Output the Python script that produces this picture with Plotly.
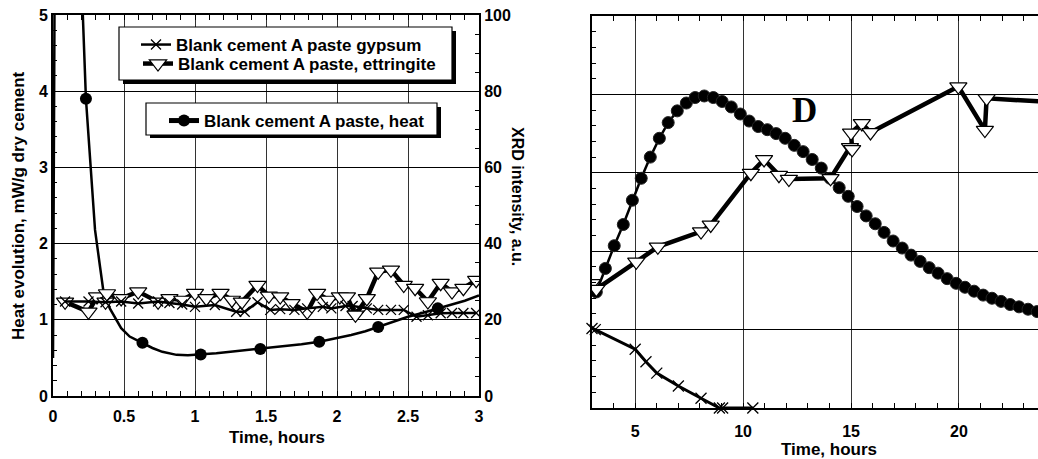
import plotly.graph_objects as go

# ---------------- data ----------------
heat_left_t = [0.0, 0.015, 0.12, 0.21, 0.232, 0.296, 0.331, 0.354, 0.40, 0.449, 0.48, 0.54, 0.63, 0.70, 0.77,
               0.87, 0.95, 1.04, 1.15, 1.25, 1.35, 1.46, 1.60, 1.75, 1.875, 2.0, 2.10, 2.20, 2.29, 2.40,
               2.50, 2.60, 2.71, 2.80, 2.90, 3.0]
heat_left_v = [0.5, 7.0, 8.0, 5.0, 3.9, 2.18, 1.70, 1.39, 1.15, 1.0, 0.89, 0.78, 0.70, 0.63, 0.58,
               0.54, 0.535, 0.545, 0.56, 0.58, 0.60, 0.617, 0.645, 0.68, 0.713, 0.76, 0.80, 0.85, 0.905, 0.98,
               1.04, 1.09, 1.15, 1.20, 1.25, 1.32]
heat_left_marker_t = [0.232, 0.63, 1.04, 1.46, 1.875, 2.29, 2.71]

ett_left_t = [0.085, 0.25, 0.31, 0.37, 0.38, 0.48, 0.60, 0.74, 0.82, 0.91, 1.00, 1.08, 1.18, 1.26, 1.33,
              1.44, 1.52, 1.60, 1.68, 1.79, 1.86, 1.94, 2.02, 2.07, 2.13, 2.21, 2.29, 2.38, 2.47, 2.55,
              2.64, 2.73, 2.81, 2.89, 2.98]
ett_left_v = [24.7, 22.1, 26.1, 24.7, 26.9, 25.6, 27.4, 24.7, 25.6, 25.2, 27.0, 25.6, 27.0, 25.2, 24.7,
              29.1, 26.3, 26.1, 24.3, 22.1, 27.0, 25.2, 26.1, 26.1, 21.3, 25.6, 32.6, 33.1, 29.1, 28.3,
              24.8, 29.6, 27.4, 28.3, 30.4]

gyp_left_t = [0.085, 0.25, 0.37, 0.48, 0.60, 0.74, 0.82, 0.91, 1.00, 1.14, 1.29, 1.35, 1.44, 1.53, 1.60,
              1.70, 1.79, 1.90, 1.96, 2.06, 2.11, 2.21, 2.29, 2.38, 2.47, 2.56, 2.64, 2.73, 2.81, 2.89, 2.98]
gyp_left_v = [24.8, 24.8, 24.6, 24.8, 24.3, 24.8, 24.4, 24.0, 23.4, 23.9, 22.1, 22.1, 24.6, 22.6, 22.8,
              22.6, 23.0, 23.4, 23.0, 23.6, 23.6, 23.0, 22.6, 22.6, 22.6, 20.8, 21.2, 21.7, 21.8, 21.8, 21.8]

heat_right_t = [3.2, 3.62, 4.03, 4.45, 4.87, 5.28, 5.7, 6.12, 6.53, 6.95, 7.37, 7.78, 8.2, 8.62, 9.03,
                9.45, 9.87, 10.28, 10.7, 11.12, 11.53, 11.95, 12.37, 12.78, 13.2, 13.62, 14.03, 14.45,
                14.87, 15.28, 15.7, 16.12, 16.53, 16.95, 17.37, 17.78, 18.2, 18.62, 19.03, 19.45, 19.87,
                20.28, 20.7, 21.12, 21.53, 21.95, 22.37, 22.78, 23.2, 23.62]
heat_right_v = [1.48, 1.78, 2.07, 2.34, 2.65, 2.93, 3.20, 3.44, 3.64, 3.79, 3.89, 3.96, 3.98, 3.96, 3.91,
                3.84, 3.75, 3.66, 3.59, 3.55, 3.50, 3.44, 3.35, 3.27, 3.17, 3.06, 2.93, 2.81,
                2.70, 2.57, 2.45, 2.35, 2.24, 2.13, 2.04, 1.95, 1.87, 1.79, 1.72, 1.65, 1.59,
                1.54, 1.49, 1.44, 1.40, 1.36, 1.32, 1.29, 1.26, 1.23]

ett_right_t = [3.0, 3.2, 5.05, 6.05, 8.05, 8.5, 10.36, 10.97, 11.66, 12.12, 14.05, 14.95, 15.05, 15.0,
               15.5, 15.9, 19.97, 21.2, 21.28, 23.75]
ett_right_v = [31.8, 30.3, 37.3, 41.1, 45.0, 46.7, 59.9, 63.4, 59.4, 58.4, 58.6, 66.5, 66.0, 70.2,
               72.6, 70.3, 82.0, 70.9, 79.0, 78.2]

gyp_right_t = [3.0, 3.15, 5.0, 5.5, 6.0, 7.0, 8.05, 8.9, 9.05, 10.45]
gyp_right_v = [20.3, 20.0, 15.0, 11.8, 8.9, 5.6, 2.5, 0.0, 0.0, 0.0]

left_x_ticks = [0, 0.5, 1, 1.5, 2, 2.5, 3]
right_x_ticks = [5, 10, 15, 20]

# ---------------- figure ----------------
W, H = 1038, 459
FONT = "Liberation Sans"


def px(x):
    return x / W


def py(y):
    return 1 - y / H


def bold(size):
    return dict(family=FONT, size=size, color="black", weight="bold")


fig = go.Figure()

heat_sizes = [12 if t in heat_left_marker_t else 0 for t in heat_left_t]

fig.add_trace(go.Scatter(
    x=heat_left_t, y=heat_left_v, xaxis="x", yaxis="y", mode="lines+markers",
    name="Blank cement A paste, heat", legend="legend3",
    line=dict(color="black", width=2.5),
    marker=dict(symbol="circle", size=heat_sizes, color="black", opacity=1, line=dict(width=0))))

fig.add_trace(go.Scatter(
    x=heat_right_t, y=heat_right_v, xaxis="x3", yaxis="y3", mode="lines+markers",
    showlegend=False, line=dict(color="black", width=2.5),
    marker=dict(symbol="circle", size=12, color="black", opacity=1, line=dict(width=1, color="#222"))))

fig.add_trace(go.Scatter(
    x=ett_left_t, y=ett_left_v, xaxis="x", yaxis="y2", mode="lines+markers",
    name="Blank cement A paste, ettringite", legend="legend2",
    line=dict(color="black", width=4.5),
    marker=dict(symbol="triangle-down", size=15, color="white", line=dict(width=1.2, color="black"))))

fig.add_trace(go.Scatter(
    x=gyp_left_t, y=gyp_left_v, xaxis="x", yaxis="y2", mode="lines+markers",
    name="Blank cement A paste gypsum", legend="legend",
    line=dict(color="black", width=2.5),
    marker=dict(symbol="x-thin", size=10, color="black", line=dict(width=1.3, color="black"))))

fig.add_trace(go.Scatter(
    x=ett_right_t, y=ett_right_v, xaxis="x3", yaxis="y4", mode="lines+markers",
    showlegend=False, line=dict(color="black", width=4.5),
    marker=dict(symbol="triangle-down", size=15, color="white", line=dict(width=1.2, color="black"))))

fig.add_trace(go.Scatter(
    x=gyp_right_t, y=gyp_right_v, xaxis="x3", yaxis="y4", mode="lines+markers",
    showlegend=False, cliponaxis=False, line=dict(color="black", width=3),
    marker=dict(symbol="x-thin", size=11, color="black", line=dict(width=1.3, color="black"))))

common = dict(showline=True, linecolor="black", linewidth=2, ticks="inside", ticklen=5,
              tickwidth=1.3, tickcolor="black", tickfont=bold(16), zeroline=False,
              automargin=False)

fig.update_layout(
    width=W, height=H, margin=dict(l=0, r=0, t=0, b=0),
    paper_bgcolor="white", plot_bgcolor="white",
    xaxis=dict(domain=[px(53), px(479)], anchor="y", range=[0, 3], tickvals=left_x_ticks,
               ticktext=[str(v) for v in left_x_ticks], mirror="allticks",
               showgrid=True, gridcolor="#333", gridwidth=1.2, ticklabelstandoff=5,
               minor=dict(dtick=0.1, tick0=0, ticks="inside", ticklen=4, tickcolor="black", showgrid=False),
               **common),
    yaxis=dict(domain=[py(396), py(15)], anchor="x", range=[0, 5], dtick=1, tick0=0,
               showgrid=True, gridcolor="black", gridwidth=1.2,
               minor=dict(dtick=0.2, tick0=0, ticks="inside", ticklen=4, tickcolor="black", showgrid=False),
               **common),
    yaxis2=dict(overlaying="y", side="right", anchor="x", range=[0, 100], dtick=20, tick0=0,
                showgrid=False,
                minor=dict(dtick=5, tick0=0, ticks="inside", ticklen=4, tickcolor="black", showgrid=False),
                **common),
    xaxis3=dict(domain=[px(592), 1.0], anchor="y3", range=[3.0, 23.66], tick0=0, dtick=5,
                mirror="allticks", showgrid=True, gridcolor="#333", gridwidth=1.2, ticklabelstandoff=8,
                minor=dict(dtick=1, tick0=0, ticks="inside", ticklen=4, tickcolor="black", showgrid=False),
                **common),
    yaxis3=dict(domain=[py(408), py(16)], anchor="x3", range=[0, 5], dtick=1, tick0=0,
                showticklabels=False, showgrid=True, gridcolor="black", gridwidth=1.2,
                minor=dict(dtick=0.2, tick0=0, ticks="inside", ticklen=4, tickcolor="black", showgrid=False),
                **common),
    yaxis4=dict(overlaying="y3", anchor="x3", range=[0, 100], visible=False),
    showlegend=True,
    legend=dict(x=px(136), y=py(45), xanchor="left", yanchor="middle", bgcolor="rgba(0,0,0,0)",
                borderwidth=0, font=bold(17), itemwidth=30),
    legend2=dict(x=px(138), y=py(64), xanchor="left", yanchor="middle", bgcolor="rgba(0,0,0,0)",
                 borderwidth=0, font=bold(17), itemwidth=30),
    legend3=dict(x=px(164), y=py(121), xanchor="left", yanchor="middle", bgcolor="rgba(0,0,0,0)",
                 borderwidth=0, font=bold(17), itemwidth=30, itemsizing="constant"),
    shapes=[
        dict(type="rect", xref="paper", yref="paper", x0=px(123), x1=px(456), y0=py(31), y1=py(84),
             fillcolor="black", line=dict(width=0), layer="above"),
        dict(type="rect", xref="paper", yref="paper", x0=px(119), x1=px(452), y0=py(27), y1=py(80),
             fillcolor="white", line=dict(width=1.2, color="black"), layer="above"),
        dict(type="rect", xref="paper", yref="paper", x0=px(150), x1=px(441), y0=py(107), y1=py(138),
             fillcolor="black", line=dict(width=0), layer="above"),
        dict(type="rect", xref="paper", yref="paper", x0=px(146), x1=px(437), y0=py(103), y1=py(135),
             fillcolor="white", line=dict(width=1.2, color="black"), layer="above"),
    ],
    annotations=[
        dict(text="Heat evolution, mW/g dry cement", x=px(18), y=py(206), xref="paper", yref="paper",
             xanchor="center", yanchor="middle", textangle=-90, showarrow=False, font=bold(17)),
        dict(text="XRD intensity, a.u.", x=px(517), y=py(196), xref="paper", yref="paper",
             xanchor="center", yanchor="middle", textangle=90, showarrow=False, font=bold(16)),
        dict(text="Time, hours", x=px(277), y=py(437), xref="paper", yref="paper",
             xanchor="center", yanchor="middle", showarrow=False, font=bold(17)),
        dict(text="Time, hours", x=px(829), y=py(449), xref="paper", yref="paper",
             xanchor="center", yanchor="middle", showarrow=False, font=bold(17)),
        dict(text="D", x=px(804), y=py(110), xref="paper", yref="paper", showarrow=False,
             xanchor="center", yanchor="middle",
             font=dict(family="Liberation Serif", size=35, color="black", weight="bold")),
    ],
)

fig.write_html("out.html")
